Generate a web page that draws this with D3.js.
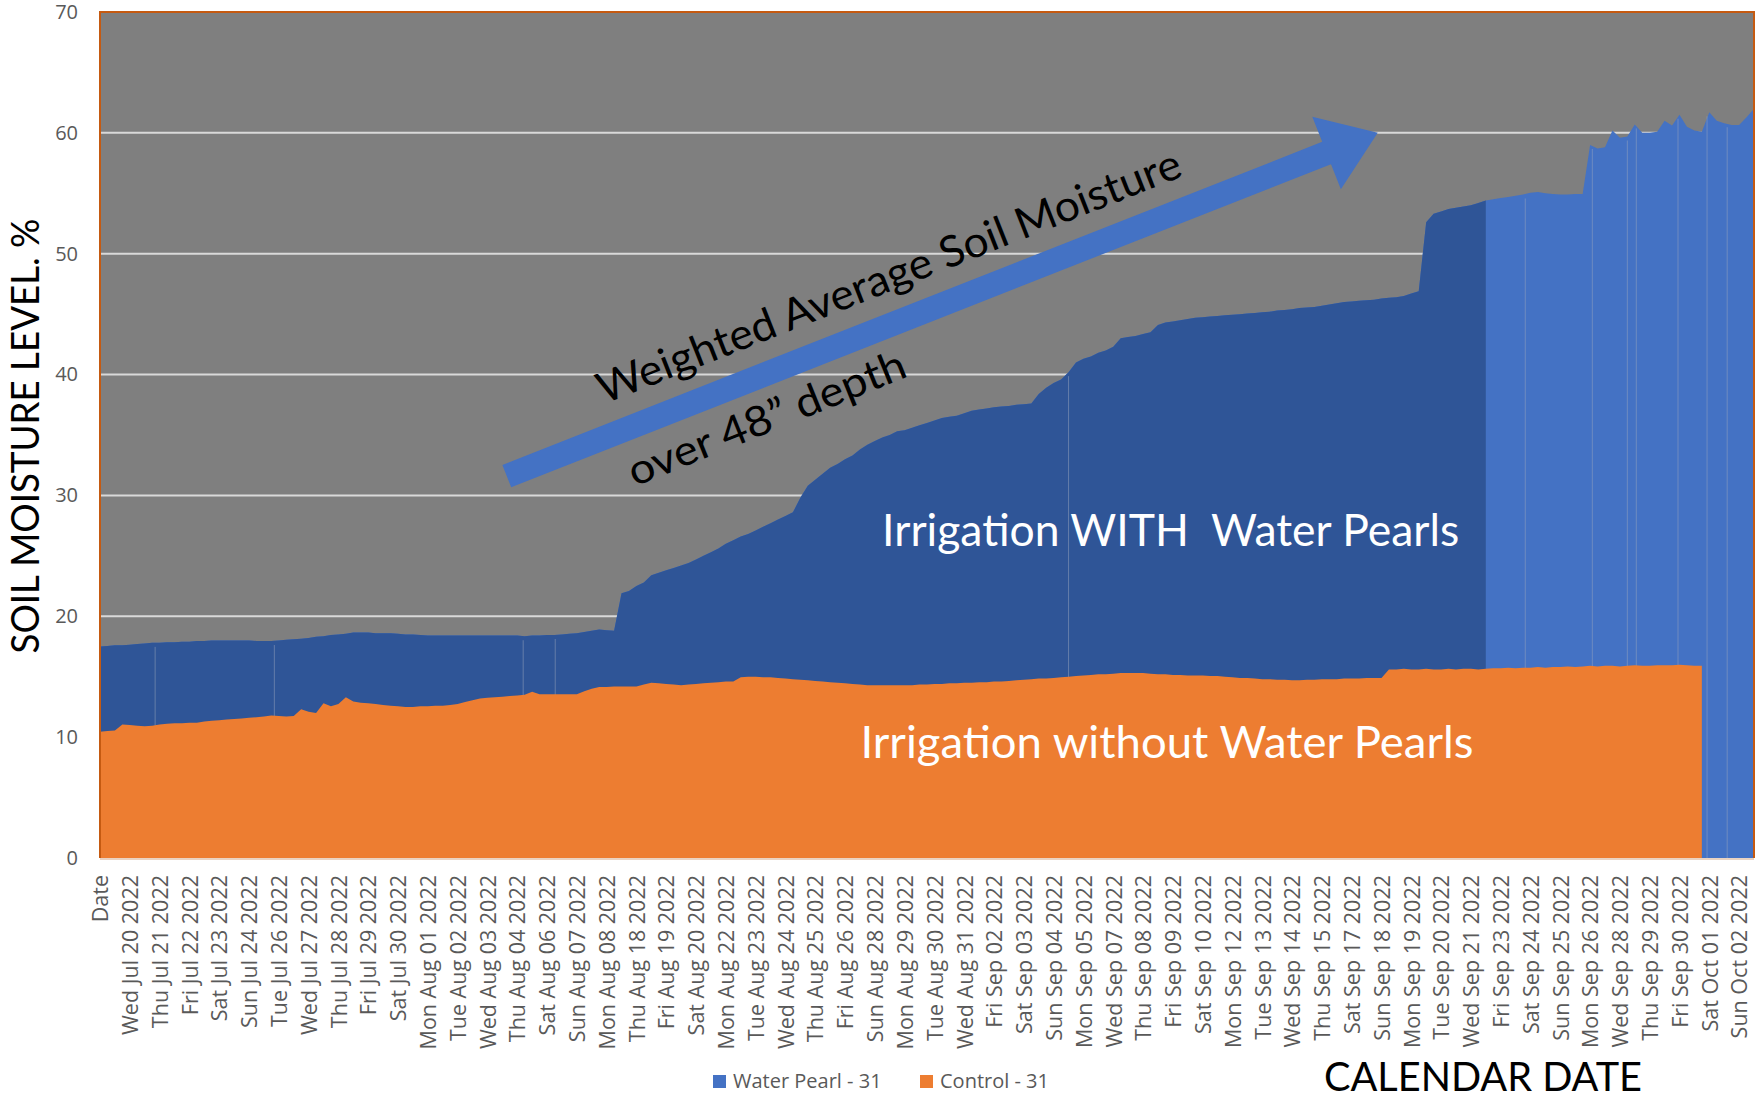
<!DOCTYPE html>
<html>
<head>
<meta charset="utf-8">
<script src="https://cdn.jsdelivr.net/npm/d3@7"></script>
<style>
  body { margin: 0; background: #fff; }
  text { font-family: "Open Sans", sans-serif; }
</style>
</head>
<body>
<svg id="chart" width="1757" height="1097"></svg>
<script>
// category labels, one every 4 readings
var dateLabels = ['Date', 'Wed Jul 20 2022', 'Thu Jul 21 2022', 'Fri Jul 22 2022', 'Sat Jul 23 2022',
  'Sun Jul 24 2022', 'Tue Jul 26 2022', 'Wed Jul 27 2022', 'Thu Jul 28 2022', 'Fri Jul 29 2022',
  'Sat Jul 30 2022', 'Mon Aug 01 2022', 'Tue Aug 02 2022', 'Wed Aug 03 2022', 'Thu Aug 04 2022',
  'Sat Aug 06 2022', 'Sun Aug 07 2022', 'Mon Aug 08 2022', 'Thu Aug 18 2022', 'Fri Aug 19 2022',
  'Sat Aug 20 2022', 'Mon Aug 22 2022', 'Tue Aug 23 2022', 'Wed Aug 24 2022', 'Thu Aug 25 2022',
  'Fri Aug 26 2022', 'Sun Aug 28 2022', 'Mon Aug 29 2022', 'Tue Aug 30 2022', 'Wed Aug 31 2022',
  'Fri Sep 02 2022', 'Sat Sep 03 2022', 'Sun Sep 04 2022', 'Mon Sep 05 2022', 'Wed Sep 07 2022',
  'Thu Sep 08 2022', 'Fri Sep 09 2022', 'Sat Sep 10 2022', 'Mon Sep 12 2022', 'Tue Sep 13 2022',
  'Wed Sep 14 2022', 'Thu Sep 15 2022', 'Sat Sep 17 2022', 'Sun Sep 18 2022', 'Mon Sep 19 2022',
  'Tue Sep 20 2022', 'Wed Sep 21 2022', 'Fri Sep 23 2022', 'Sat Sep 24 2022', 'Sun Sep 25 2022',
  'Mon Sep 26 2022', 'Wed Sep 28 2022', 'Thu Sep 29 2022', 'Fri Sep 30 2022', 'Sat Oct 01 2022',
  'Sun Oct 02 2022'];
var readingsPerLabel = 4;

// Water Pearl - 31 (weighted avg soil moisture %)
var waterPearl = [
  17.5, 17.55, 17.6, 17.6, 17.65, 17.7, 17.75, 17.8, 17.8, 17.85, 17.85, 17.9,
  17.9, 17.95, 17.95, 18.0, 18.0, 18.0, 18.0, 18.0, 18.0, 17.95, 17.95, 17.95,
  18.0, 18.05, 18.1, 18.15, 18.2, 18.3, 18.35, 18.45, 18.5, 18.55, 18.65, 18.65,
  18.65, 18.6, 18.6, 18.6, 18.55, 18.5, 18.5, 18.45, 18.4, 18.4, 18.4, 18.4,
  18.4, 18.4, 18.4, 18.4, 18.4, 18.4, 18.4, 18.4, 18.4, 18.35, 18.4, 18.4,
  18.45, 18.45, 18.5, 18.55, 18.6, 18.7, 18.8, 18.9, 18.85, 18.8, 21.9, 22.1,
  22.5, 22.8, 23.4, 23.6, 23.8, 24.0, 24.2, 24.4, 24.7, 25.0, 25.3, 25.6,
  26.0, 26.3, 26.6, 26.8, 27.1, 27.4, 27.7, 28.0, 28.3, 28.6, 29.8, 30.8,
  31.3, 31.8, 32.3, 32.6, 33.0, 33.3, 33.8, 34.2, 34.5, 34.8, 35.0, 35.3,
  35.4, 35.6, 35.8, 36.0, 36.2, 36.4, 36.5, 36.6, 36.8, 37.0, 37.1, 37.2,
  37.3, 37.35, 37.4, 37.5, 37.55, 37.6, 38.4, 38.9, 39.3, 39.6, 40.2, 41.0,
  41.3, 41.5, 41.8, 42.0, 42.3, 43.0, 43.1, 43.2, 43.35, 43.5, 44.1, 44.3,
  44.4, 44.5, 44.6, 44.7, 44.75, 44.8, 44.85, 44.9, 44.95, 45.0, 45.05, 45.1,
  45.15, 45.2, 45.3, 45.35, 45.4, 45.5, 45.55, 45.6, 45.7, 45.8, 45.9, 46.0,
  46.05, 46.1, 46.15, 46.2, 46.3, 46.35, 46.4, 46.5, 46.7, 46.9, 52.6, 53.3,
  53.5, 53.7, 53.8, 53.9, 54.0, 54.2, 54.4, 54.5, 54.6, 54.7, 54.8, 54.9,
  55.05, 55.1, 55.0, 54.95, 54.9, 54.9, 54.95, 54.95, 59.0, 58.7, 58.8, 60.2,
  59.6, 59.7, 60.7, 60.0, 60.0, 60.1, 61.0, 60.6, 61.5, 60.5, 60.2, 60.1,
  61.7, 61.0, 60.8, 60.65, 60.65, 61.3, 62.0];

// Control - 31
var control = [
  10.45, 10.5, 10.55, 11.05, 11.0, 10.95, 10.9, 10.95, 11.05, 11.1, 11.15, 11.15,
  11.2, 11.2, 11.3, 11.35, 11.4, 11.45, 11.5, 11.55, 11.6, 11.65, 11.7, 11.8,
  11.75, 11.7, 11.75, 12.3, 12.1, 12.0, 12.8, 12.55, 12.75, 13.3, 12.95, 12.85,
  12.8, 12.75, 12.65, 12.6, 12.55, 12.5, 12.5, 12.55, 12.55, 12.6, 12.6, 12.65,
  12.75, 12.9, 13.05, 13.2, 13.25, 13.3, 13.35, 13.4, 13.45, 13.5, 13.75, 13.55,
  13.55, 13.55, 13.55, 13.55, 13.55, 13.8, 14.0, 14.15, 14.15, 14.2, 14.2, 14.2,
  14.2, 14.35, 14.5, 14.45, 14.4, 14.35, 14.3, 14.35, 14.4, 14.45, 14.5, 14.55,
  14.6, 14.6, 14.95, 15.0, 15.0, 14.95, 14.95, 14.9, 14.85, 14.8, 14.75, 14.7,
  14.65, 14.6, 14.55, 14.5, 14.45, 14.4, 14.35, 14.3, 14.3, 14.3, 14.3, 14.3,
  14.3, 14.3, 14.35, 14.35, 14.4, 14.4, 14.45, 14.45, 14.5, 14.5, 14.55, 14.55,
  14.6, 14.6, 14.65, 14.7, 14.75, 14.8, 14.85, 14.85, 14.9, 14.95, 15.0, 15.05,
  15.1, 15.15, 15.2, 15.2, 15.25, 15.3, 15.3, 15.3, 15.3, 15.25, 15.2, 15.2,
  15.15, 15.15, 15.1, 15.1, 15.1, 15.05, 15.05, 15.0, 14.95, 14.9, 14.9, 14.85,
  14.8, 14.8, 14.75, 14.75, 14.7, 14.7, 14.75, 14.75, 14.8, 14.8, 14.8, 14.85,
  14.85, 14.85, 14.9, 14.9, 14.9, 15.6, 15.6, 15.65, 15.6, 15.6, 15.65, 15.6,
  15.6, 15.65, 15.6, 15.65, 15.65, 15.6, 15.65, 15.7, 15.7, 15.75, 15.7, 15.75,
  15.75, 15.8, 15.75, 15.8, 15.8, 15.85, 15.8, 15.85, 15.9, 15.85, 15.9, 15.9,
  15.85, 15.9, 15.95, 15.9, 15.9, 15.95, 15.95, 15.95, 16.0, 15.95, 15.9, 15.9];

var darkThrough = 186;   // readings up to here drawn in the darker blue
var seams = [7.4, 23.4, 56.8, 61.1, 130, 191.3, 200.3, 205, 206.2, 211.8, 215.7, 218.4];
var yTicks = [0, 10, 20, 30, 40, 50, 60, 70];
var legendItems = [{ name: 'Water Pearl - 31', color: '#4472c4' }, { name: 'Control - 31', color: '#ed7d31' }];

var svg = d3.select('#chart');
var pL = 100, pR = 1754, pT = 12, pB = 858;

var x = d3.scaleLinear().domain([0, waterPearl.length - 1]).range([pL, pR]);
var y = d3.scaleLinear().domain([0, 70]).range([pB, pT]);

// plot background
svg.append('rect').attr('x', pL).attr('y', pT).attr('width', pR - pL).attr('height', pB - pT)
  .attr('fill', '#7f7f7f');

// gridlines
svg.append('g').selectAll('line').data(yTicks.filter(function (t) { return t > 0 && t < 70; })).join('line')
  .attr('x1', pL).attr('x2', pR)
  .attr('y1', function (d) { return y(d); }).attr('y2', function (d) { return y(d); })
  .attr('stroke', '#d9d9d9').attr('stroke-width', 2);

var area = d3.area()
  .x(function (d, i) { return x(i); })
  .y0(y(0))
  .y1(function (d) { return y(d); });

svg.append('path').datum(waterPearl).attr('d', area).attr('fill', '#4472c4');

svg.append('clipPath').attr('id', 'darkClip').append('rect')
  .attr('x', pL).attr('y', pT).attr('width', x(darkThrough) - pL).attr('height', pB - pT);
svg.append('path').datum(waterPearl).attr('d', area).attr('fill', '#2f5597').attr('clip-path', 'url(#darkClip)');

// faint seams between logging blocks
svg.append('g').selectAll('line').data(seams).join('line')
  .attr('x1', function (d) { return x(d); }).attr('x2', function (d) { return x(d); })
  .attr('y1', y(0))
  .attr('y2', function (d) { return y(waterPearl[Math.round(d)]) + 4; })
  .attr('stroke', '#9aa6bd').attr('stroke-opacity', 0.5).attr('stroke-width', 1);

svg.append('path').datum(control).attr('d', area).attr('fill', '#ed7d31');

// border + axis line
svg.append('line').attr('x1', pL).attr('x2', pR).attr('y1', pB + 1).attr('y2', pB + 1)
  .attr('stroke', '#ead3c2').attr('stroke-width', 2);
svg.append('path').attr('d', 'M' + pL + ',' + pB + 'V' + pT + 'H' + pR + 'V' + pB)
  .attr('fill', 'none').attr('stroke', '#c55a11').attr('stroke-width', 2);

// y axis
var yAxis = svg.append('g').attr('transform', 'translate(' + pL + ',0)')
  .call(d3.axisLeft(y).tickValues(yTicks).tickSize(0).tickPadding(22));
yAxis.select('.domain').remove();
yAxis.selectAll('text').attr('font-size', 20).attr('fill', '#595959').style('font-family', '"Open Sans", sans-serif');

// x axis labels
var xAxis = svg.append('g').attr('transform', 'translate(0,' + pB + ')')
  .call(d3.axisBottom(x)
    .tickValues(dateLabels.map(function (d, i) { return i * readingsPerLabel; }))
    .tickFormat(function (d) { return dateLabels[d / readingsPerLabel]; })
    .tickSize(0));
xAxis.select('.domain').remove();
xAxis.selectAll('text')
  .attr('transform', 'rotate(-90)')
  .attr('x', -17).attr('y', 0).attr('dy', '0.36em')
  .attr('text-anchor', 'end')
  .attr('font-size', 21.5).attr('fill', '#595959')
  .style('font-family', '"Open Sans", sans-serif');

// axis titles
svg.append('text').attr('transform', 'translate(39,436) rotate(-90)')
  .attr('text-anchor', 'middle').attr('font-size', 38).attr('fill', '#000')
  .attr('textLength', 435).attr('lengthAdjust', 'spacingAndGlyphs')
  .style('font-family', 'Lato, sans-serif')
  .text('SOIL MOISTURE LEVEL. %');

svg.append('text').attr('x', 1483).attr('y', 1091)
  .attr('text-anchor', 'middle').attr('font-size', 41).attr('fill', '#000')
  .attr('textLength', 318).attr('lengthAdjust', 'spacingAndGlyphs')
  .style('font-family', 'Lato, sans-serif')
  .text('CALENDAR DATE');

// legend
var lg = svg.append('g').selectAll('g').data(legendItems).join('g')
  .attr('transform', function (d, i) { return 'translate(' + [713, 920][i] + ',1075)'; });
lg.append('rect').attr('width', 13).attr('height', 13).attr('fill', function (d) { return d.color; });
lg.append('text').attr('x', 20).attr('y', 13).attr('font-size', 20).attr('fill', '#595959')
  .text(function (d) { return d.name; });

// trend arrow (anchored in data units)
var tail = [x(54.6), y(31.6)], tip = [x(171.5), y(60)];
var ang = Math.atan2(tip[1] - tail[1], tip[0] - tail[0]);
var len = Math.hypot(tip[0] - tail[0], tip[1] - tail[1]);
var shaft = 12, head = 39, headLen = 55;
var arrowPts = [[0, -shaft], [len - headLen, -shaft], [len - headLen, -head], [len, 0],
  [len - headLen, head], [len - headLen, shaft], [0, shaft]];
svg.append('path')
  .attr('transform', 'translate(' + tail + ') rotate(' + (ang * 180 / Math.PI) + ')')
  .attr('d', d3.line()(arrowPts) + 'Z')
  .attr('fill', '#4472c4');

// annotations
svg.append('text')
  .attr('transform', 'translate(' + x(106.6) + ',' + y(47.0) + ') rotate(-21.5)')
  .attr('text-anchor', 'middle').attr('font-size', 43).attr('fill', '#000')
  .attr('textLength', 624).attr('lengthAdjust', 'spacingAndGlyphs')
  .style('font-family', 'Lato, sans-serif')
  .text('Weighted Average Soil Moisture');
svg.append('text')
  .attr('transform', 'translate(' + x(90.2) + ',' + y(35.3) + ') rotate(-22)')
  .attr('text-anchor', 'middle').attr('font-size', 42).attr('fill', '#000')
  .attr('textLength', 296).attr('lengthAdjust', 'spacingAndGlyphs')
  .style('font-family', 'Lato, sans-serif')
  .text('over 48\u201D depth');

svg.append('text').attr('x', x(143.7)).attr('y', y(25.8))
  .attr('text-anchor', 'middle').attr('font-size', 44).attr('fill', '#fff')
  .attr('textLength', 577).attr('lengthAdjust', 'spacingAndGlyphs')
  .style('font-family', 'Lato, sans-serif').style('white-space', 'pre')
  .text('Irrigation WITH  Water Pearls');
svg.append('text').attr('x', x(143.2)).attr('y', y(8.3))
  .attr('text-anchor', 'middle').attr('font-size', 44).attr('fill', '#fff')
  .attr('textLength', 613).attr('lengthAdjust', 'spacingAndGlyphs')
  .style('font-family', 'Lato, sans-serif')
  .text('Irrigation without Water Pearls');
</script>
</body>
</html>
